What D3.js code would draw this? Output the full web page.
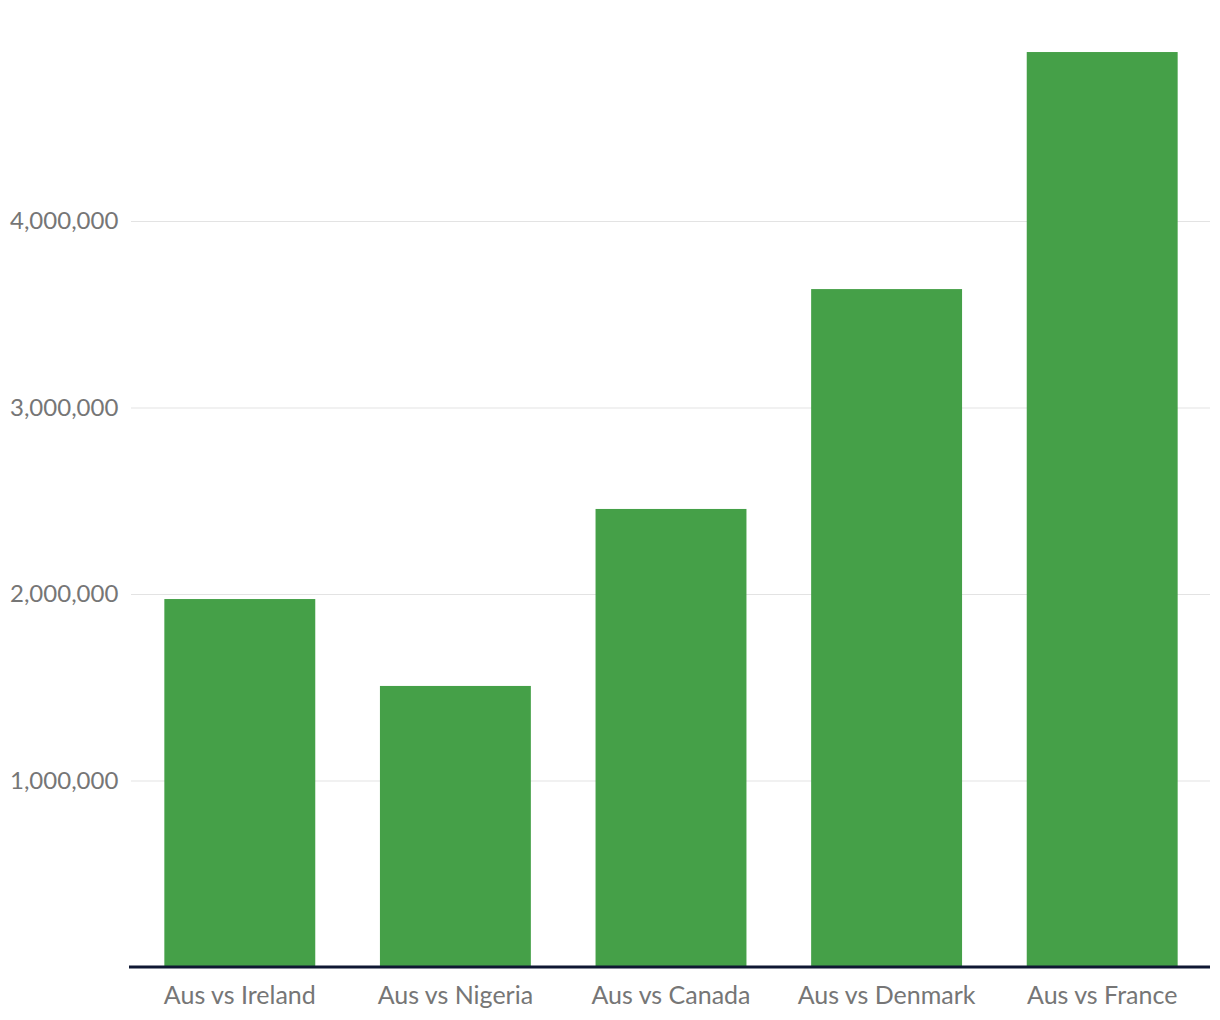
<!DOCTYPE html>
<html>
<head>
<meta charset="utf-8">
<script src="https://cdn.jsdelivr.net/npm/d3@7"></script>
<style>
  body { margin: 0; background: #fff; }
  text { font-family: Lato, sans-serif; }
</style>
</head>
<body>
<script>
const categories = ['Aus vs Ireland', 'Aus vs Nigeria', 'Aus vs Canada', 'Aus vs Denmark', 'Aus vs France'];
const values = [1973000, 1507000, 2456000, 3635000, 4906000];
const yTicks = [1000000, 2000000, 3000000, 4000000];

const width = 1220, height = 1020;
const plot = { left: 129, right: 1210, top: 20, bottom: 967 };

const svg = d3.select('body').append('svg')
  .attr('width', width)
  .attr('height', height);

const x = d3.scaleBand()
  .domain(categories)
  .range([plot.left + 3, plot.right])
  .paddingInner(0.3)
  .paddingOuter(0.15);

// 1M ≈ 186.5px
const y = d3.scaleLinear()
  .domain([0, 5000000])
  .range([plot.bottom, plot.bottom - 5 * 186.5]);

// grid
const grid = svg.append('g').attr('transform', `translate(${plot.left + 2},0)`)
  .call(d3.axisLeft(y).tickValues(yTicks).tickSize(-(plot.right - plot.left - 2)).tickFormat(''));
grid.select('.domain').remove();
grid.selectAll('line').attr('stroke', '#e3e3e3').attr('stroke-width', 1.2);

// y labels
svg.append('g').selectAll('text')
  .data(yTicks)
  .join('text')
  .attr('x', 10)
  .attr('y', d => y(d))
  .attr('dy', '0.35em')
  .attr('font-size', 24)
  .attr('fill', '#767676')
  .text(d => d3.format(',')(d));

// bars
svg.append('g').selectAll('rect')
  .data(values)
  .join('rect')
  .attr('x', (d, i) => x(categories[i]))
  .attr('width', x.bandwidth())
  .attr('y', d => y(d))
  .attr('height', d => y(0) - y(d))
  .attr('fill', '#45a048');

// baseline
svg.append('line')
  .attr('x1', plot.left).attr('x2', plot.right)
  .attr('y1', plot.bottom).attr('y2', plot.bottom)
  .attr('stroke', '#0f1833')
  .attr('stroke-width', 3);

// x labels
svg.append('g').selectAll('text')
  .data(categories)
  .join('text')
  .attr('x', d => x(d) + x.bandwidth() / 2)
  .attr('y', 1004)
  .attr('text-anchor', 'middle')
  .attr('font-size', 25)
  .attr('fill', '#767676')
  .text(d => d);
</script>
</body>
</html>
